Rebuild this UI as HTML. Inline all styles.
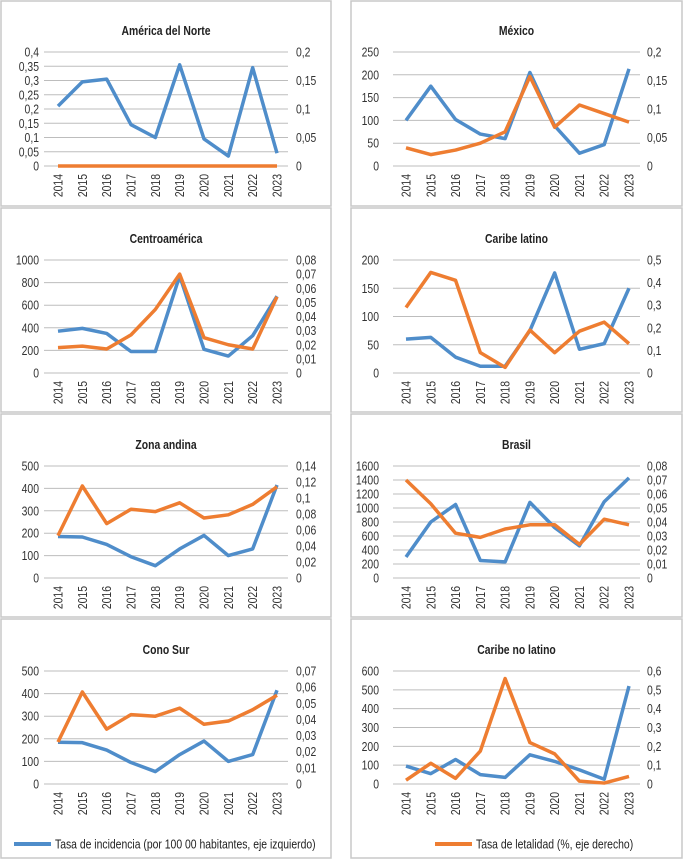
<!DOCTYPE html>
<html><head><meta charset="utf-8"><style>
html,body{margin:0;padding:0;background:#fff;}
svg{display:block;font-family:"Liberation Sans",sans-serif;}
</style></head><body>
<svg id="c" width="683" height="860" viewBox="0 0 683 860" xmlns="http://www.w3.org/2000/svg"></svg>
<script>
const years = ["2014","2015","2016","2017","2018","2019","2020","2021","2022","2023"];
const titles = ["América del Norte","México","Centroamérica","Caribe latino","Zona andina","Brasil","Cono Sur","Caribe no latino"];
const incNorte = [0.21,0.295,0.305,0.145,0.10,0.355,0.095,0.035,0.345,0.045];
const letNorte = [0,0,0,0,0,0,0,0,0,0];
const incMexico = [100,175,102,70,60,205,88,28,47,213];
const letMexico = [0.032,0.02,0.028,0.04,0.06,0.157,0.068,0.107,0.092,0.077];
const incCentro = [370,395,350,190,190,860,210,150,330,680];
const letCentro = [0.018,0.019,0.017,0.027,0.045,0.07,0.025,0.02,0.017,0.054];
const incCaribeL = [60,63,28,12,12,75,177,42,52,150];
const letCaribeL = [0.29,0.445,0.41,0.09,0.025,0.19,0.09,0.185,0.225,0.13];
const incAndina = [185,183,150,95,55,130,190,100,130,415];
const letAndina = [0.053,0.115,0.068,0.086,0.083,0.094,0.075,0.079,0.092,0.114];
const incBrasil = [300,800,1050,250,230,1080,720,460,1090,1430];
const letBrasil = [0.07,0.053,0.032,0.029,0.035,0.038,0.038,0.024,0.042,0.038];
const incCono = [185,183,150,95,55,130,190,100,130,415];
const letCono = [0.026,0.057,0.034,0.043,0.042,0.047,0.037,0.039,0.046,0.055];
const incCaribeNL = [95,55,130,50,35,155,120,75,25,520];
const letCaribeNL = [0.02,0.11,0.03,0.175,0.56,0.22,0.16,0.015,0.005,0.04];
const leftMax = [0.4,250,1000,200,500,1600,500,600];
const leftStep = [0.05,50,200,50,100,200,100,100];
const rightMax = [0.2,0.2,0.08,0.5,0.14,0.08,0.07,0.6];
const rightStep = [0.05,0.05,0.01,0.1,0.02,0.01,0.01,0.1];
const incAll = [incNorte,incMexico,incCentro,incCaribeL,incAndina,incBrasil,incCono,incCaribeNL];
const letAll = [letNorte,letMexico,letCentro,letCaribeL,letAndina,letBrasil,letCono,letCaribeNL];
const legendLabels = ["Tasa de incidencia (por 100 00 habitantes, eje izquierdo)","Tasa de letalidad (%, eje derecho)"];

const NS="http://www.w3.org/2000/svg";
const svg=document.getElementById('c');
function mk(tag,attrs,parent){const e=document.createElementNS(NS,tag);for(const k in attrs)e.setAttribute(k,attrs[k]);(parent||svg).appendChild(e);return e;}
const SX=0.8;
function txt(parent,x,y,str,anchor,size,extra,rot){
  const tf=`translate(${x} ${y})`+(rot?' rotate(-90)':'')+` scale(${SX} 1)`;
  const a={x:0,y:0,transform:tf,'text-anchor':anchor,'font-size':size,fill:'#333'};
  for(const k in (extra||{}))a[k]=extra[k];
  const e=mk('text',a,parent);e.textContent=str;return e;
}
const BLUE="#4f8dca", ORANGE="#ee7d31";
const rowTop=[1,208,414,619], rowBot=[206,412,617,858];
const plotTop=[52,260,466,671], plotBot=[166,373,578,784];
function fmt(v){let s=(Math.round(v*1000)/1000).toString();return s.replace('.',',');}
for(let i=0;i<8;i++){
  const col=i%2,row=Math.floor(i/2);
  const px=col?351:1, pw=col?331:330;
  const g=mk('g',{});
  
  
  const r=mk('rect',{x:px,y:rowTop[row],width:pw,height:rowBot[row]-rowTop[row],fill:'#fff',stroke:'#c8c8c8','stroke-width':1.5},g);
  
  const gx0=col?393:44, gx1=col?640:288;
  const xs0=col?406:58, xs1=col?629:277;
  const y0=plotBot[row], y1=plotTop[row];
  const xF=k=>xs0+(xs1-xs0)*k/(years.length-1);
  const yL=v=>y0-(y0-y1)*v/leftMax[i];
  const yR=v=>y0-(y0-y1)*v/rightMax[i];
  const t=txt(g,px+pw/2,y1-17,titles[i],'middle',13,{'font-weight':'bold',fill:'#222'});
  
  const nL=Math.round(leftMax[i]/leftStep[i]);
  for(let k=0;k<=nL;k++){
    const v=k*leftStep[i],y=yL(v);
    const l=mk('line',{x1:gx0,x2:gx1,y1:y,y2:y,stroke:'#bdbdbd','stroke-width':1},g);
    
    const tx=txt(g,col?379:39,y+4.5,fmt(v),'end',13);
    
  }
  const nR=Math.round(rightMax[i]/rightStep[i]);
  for(let k=0;k<=nR;k++){
    const v=k*rightStep[i],y=yR(v);
    const tx=txt(g,col?647:296,y+4.5,fmt(v),'start',13);
    
  }
  years.forEach((yr,k)=>{
    const tx=txt(g,xF(k)+4.5,y0+8,yr,'end',13,{},true);
    
  });
  const pb=mk('polyline',{points:incAll[i].map((v,k)=>xF(k)+','+yL(v)).join(' '),fill:'none',stroke:BLUE,'stroke-width':3.5,'stroke-linejoin':'round'},g);
  
  const po=mk('polyline',{points:letAll[i].map((v,k)=>xF(k)+','+yR(v)).join(' '),fill:'none',stroke:ORANGE,'stroke-width':3.5,'stroke-linejoin':'round'},g);
  
}
// legend
const lg1=mk('g',{});
mk('line',{x1:14,x2:51,y1:844,y2:844,stroke:BLUE,'stroke-width':4},lg1);
const t1=txt(lg1,55,848.5,legendLabels[0],'start',13,{fill:'#222'});

const lg2=mk('g',{});
mk('line',{x1:435,x2:472,y1:844,y2:844,stroke:ORANGE,'stroke-width':4},lg2);
const t2=txt(lg2,476,848.5,legendLabels[1],'start',13,{fill:'#222'});

</script>
</body></html>
